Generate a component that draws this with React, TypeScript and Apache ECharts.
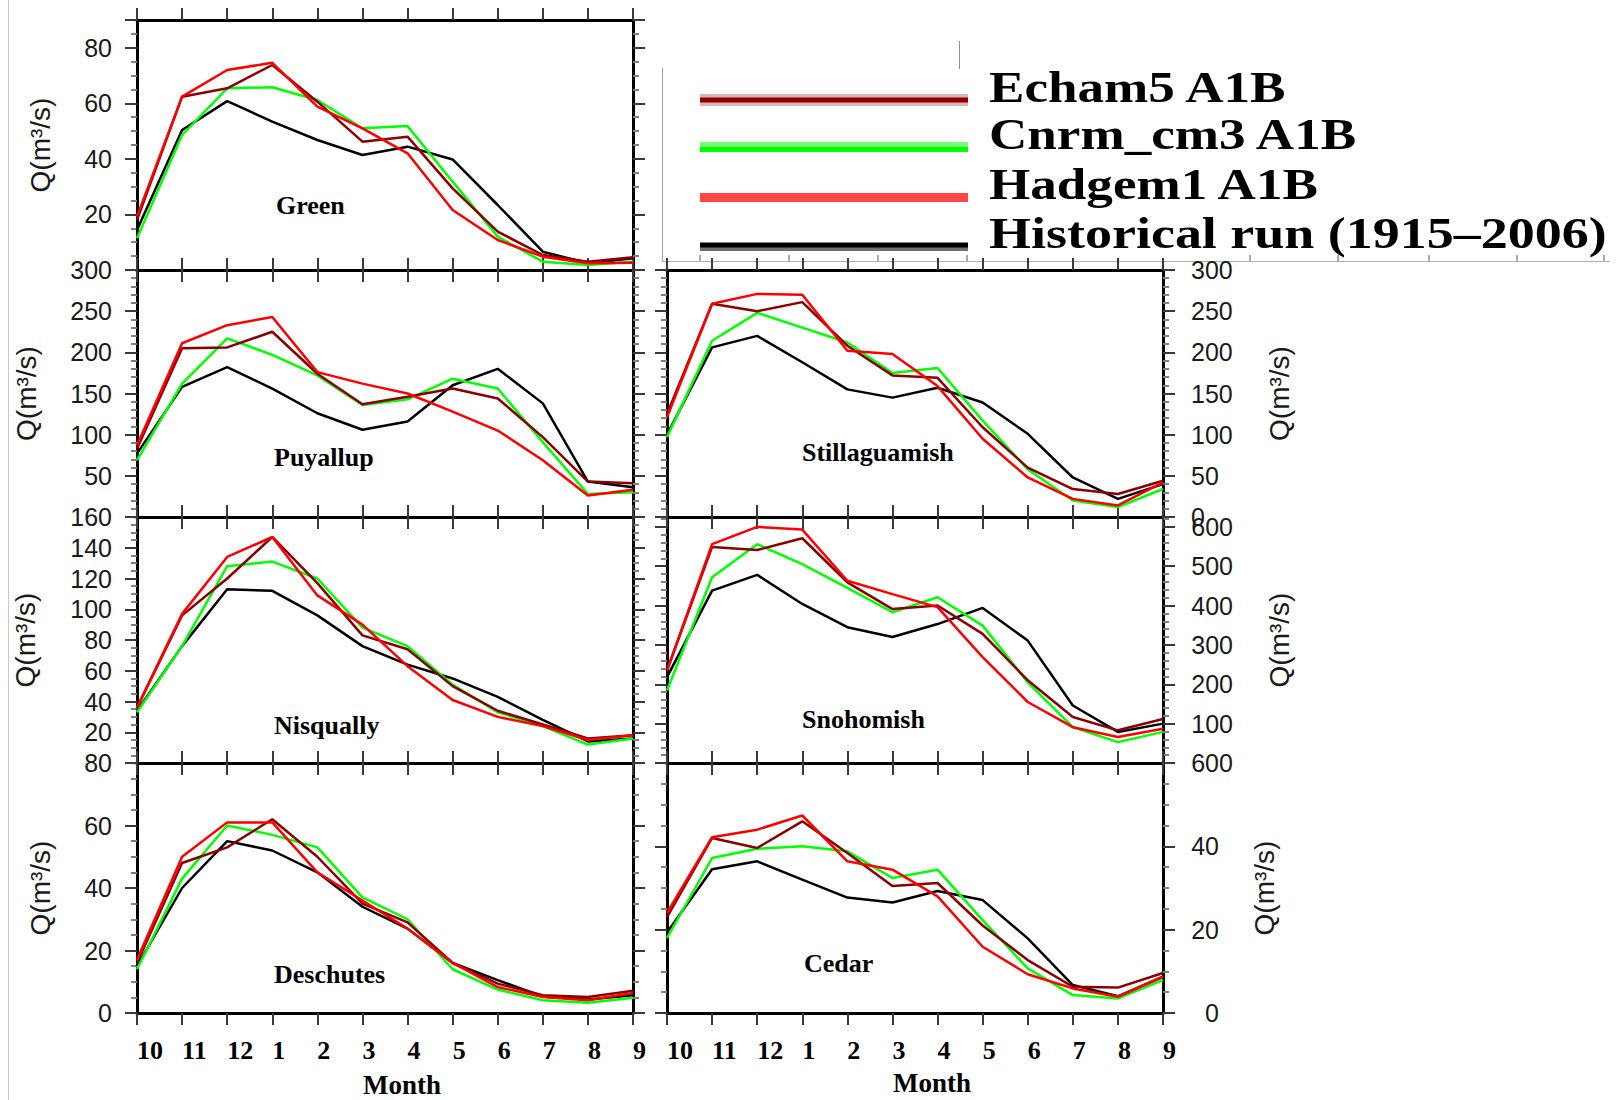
import React, { useEffect, useRef } from 'react';
import * as echarts from 'echarts';

// ---- data ----
const months = ['10', '11', '12', '1', '2', '3', '4', '5', '6', '7', '8', '9'];
const seriesNames = ['Echam5 A1B', 'Cnrm_cm3 A1B', 'Hadgem1 A1B', 'Historical run (1915–2006)'];
const seriesColors = ['#8b0000', '#00ff00', '#ff0000', '#000000'];
const yAxisTitle = 'Q(m³/s)';
const xAxisTitle = 'Month';

const greenEcham5 = [18, 62.4, 65.4, 73.8, 60.6, 46.2, 48, 29.4, 13.8, 5.4, 3, 4.6];
const greenCnrm = [11.4, 48.6, 65.4, 65.8, 61.2, 51, 51.8, 31.8, 12, 3, 1.8, 3];
const greenHadgem = [19.2, 62.4, 72, 74.6, 58.8, 51, 42, 21.6, 10.8, 4.8, 2.4, 2.6];
const greenHist = [14.4, 50.4, 60.8, 53.4, 46.8, 41.4, 44.4, 39.8, 23.4, 6.6, 2.4, 4.2];

const puyallupEcham5 = [83, 205, 206, 225, 174, 137, 146, 156, 144, 97, 43, 41];
const puyallupCnrm = [69, 162, 217, 197, 172, 136, 143, 168, 156, 91, 28, 30];
const puyallupHadgem = [87, 211, 233, 243, 176, 162, 150, 128, 105, 69, 26, 33];
const puyallupHist = [77, 158, 182, 156, 126, 106, 116, 160, 180, 138, 43, 36];

const nisquallyEcham5 = [36, 96, 120, 147, 117, 83, 74, 50, 34, 25, 16, 18];
const nisquallyCnrm = [33, 76, 128, 131, 120, 88, 76, 51, 33, 24, 12, 16];
const nisquallyHadgem = [36, 97, 134, 147, 109, 90, 63, 41, 30, 24, 15, 18];
const nisquallyHist = [34, 76, 113, 112, 96, 76, 64, 55, 43, 28, 14, 16];

const deschutesEcham5 = [16, 48, 53, 62, 50, 35, 29, 16, 9.4, 5.7, 5.1, 7.1];
const deschutesCnrm = [14, 43, 60, 57, 53, 37, 30, 14, 7.5, 4.1, 3.3, 4.9];
const deschutesHadgem = [17, 50, 61, 61, 45, 36, 27, 16, 8.3, 5.1, 4.1, 6.4];
const deschutesHist = [15, 40, 55, 52, 45, 34, 27, 16, 10.5, 5.3, 4.3, 5.7];

const stillaguamishEcham5 = [125, 259, 250, 261, 208, 172, 169, 109, 60, 34, 28, 44];
const stillaguamishCnrm = [97, 214, 248, 230, 212, 175, 181, 117, 58, 20, 12, 34];
const stillaguamishHadgem = [121, 259, 271, 270, 202, 198, 159, 95, 48, 22, 14, 42];
const stillaguamishHist = [100, 206, 220, 188, 155, 145, 157, 139, 101, 48, 22, 40];

const snohomishEcham5 = [235, 549, 541, 571, 459, 391, 400, 328, 210, 117, 83, 112];
const snohomishCnrm = [184, 472, 556, 505, 445, 383, 421, 349, 205, 91, 53, 79];
const snohomishHadgem = [235, 556, 600, 593, 463, 429, 396, 269, 155, 91, 66, 87];
const snohomishHist = [218, 438, 478, 404, 345, 320, 353, 394, 311, 146, 79, 100];

const cedarEcham5 = [23, 42, 39.6, 46, 38.4, 30.5, 31.2, 21, 12.7, 6.3, 6.1, 9.6];
const cedarCnrm = [18, 37.2, 39.4, 40, 38.8, 32.4, 34.4, 22.3, 10.7, 4.3, 3.5, 7.9];
const cedarHadgem = [24, 42.2, 44, 47.4, 36.4, 34.4, 28, 15.9, 9.3, 5.9, 3.9, 8.7];
const cedarHist = [19.3, 34.5, 36.4, 32, 27.7, 26.5, 29.3, 27.1, 17.9, 6.7, 4, 8.7];

// ---- panel layout ----
type Panel = {
  title: string;
  data: number[][];
  max: number;
  interval: number;
  minor: number;
  side: 'left' | 'right';
  left: number;
  top: number;
  height: number;
  showMin: boolean;
  showMax: boolean;
  nameGap: number;
  labelMargin: number;
  labelAlign: string;
  bottomRow: boolean;
  titleX: number;
  titleY: number;
};

const panels: Panel[] = [
  { title: 'Green', data: [greenEcham5, greenCnrm, greenHadgem, greenHist], max: 90, interval: 20, minor: 4, side: 'left', left: 137, top: 20, height: 250, showMin: false, showMax: false, nameGap: 83, labelMargin: 25, labelAlign: 'right', bottomRow: false, titleX: 276, titleY: 205 },
  { title: 'Puyallup', data: [puyallupEcham5, puyallupCnrm, puyallupHadgem, puyallupHist], max: 300, interval: 50, minor: 5, side: 'left', left: 137, top: 270, height: 247, showMin: false, showMax: true, nameGap: 97, labelMargin: 25, labelAlign: 'right', bottomRow: false, titleX: 274, titleY: 457 },
  { title: 'Nisqually', data: [nisquallyEcham5, nisquallyCnrm, nisquallyHadgem, nisquallyHist], max: 160, interval: 20, minor: 4, side: 'left', left: 137, top: 517, height: 246, showMin: false, showMax: true, nameGap: 98, labelMargin: 25, labelAlign: 'right', bottomRow: false, titleX: 274, titleY: 725 },
  { title: 'Deschutes', data: [deschutesEcham5, deschutesCnrm, deschutesHadgem, deschutesHist], max: 80, interval: 20, minor: 4, side: 'left', left: 137, top: 763, height: 250, showMin: true, showMax: true, nameGap: 83, labelMargin: 25, labelAlign: 'right', bottomRow: true, titleX: 274, titleY: 974 },
  { title: 'Stillaguamish', data: [stillaguamishEcham5, stillaguamishCnrm, stillaguamishHadgem, stillaguamishHist], max: 300, interval: 50, minor: 5, side: 'right', left: 667, top: 270, height: 247, showMin: true, showMax: true, nameGap: 102, labelMargin: 28, labelAlign: 'left', bottomRow: false, titleX: 802, titleY: 452 },
  { title: 'Snohomish', data: [snohomishEcham5, snohomishCnrm, snohomishHadgem, snohomishHist], max: 625, interval: 100, minor: 5, side: 'right', left: 667, top: 517, height: 246, showMin: true, showMax: false, nameGap: 102, labelMargin: 70, labelAlign: 'right', bottomRow: false, titleX: 802, titleY: 719 },
  { title: 'Cedar', data: [cedarEcham5, cedarCnrm, cedarHadgem, cedarHist], max: 60, interval: 20, minor: 4, side: 'right', left: 667, top: 763, height: 250, showMin: true, showMax: true, nameGap: 87, labelMargin: 56, labelAlign: 'right', bottomRow: true, titleX: 804, titleY: 963 },
];

const PLOT_W = 496;
const seriesZ = [4, 3, 5, 2];

function buildOption() {
  const grid: any[] = [];
  const xAxis: any[] = [];
  const yAxis: any[] = [];
  const series: any[] = [];
  const graphic: any[] = [];

  const axisLine = { show: true, onZero: false, lineStyle: { color: '#000', width: 3 } };
  const axisTick = { show: true, inside: false, length: 12, interval: 0, lineStyle: { color: '#3a3a3a', width: 2 } };

  panels.forEach((p, i) => {
    grid.push({
      left: p.left,
      top: p.top,
      width: PLOT_W,
      height: p.height,
      show: false,
      containLabel: false,
      outerBoundsMode: 'none',
    });

    const xBase = {
      gridIndex: i,
      type: 'category',
      data: months,
      boundaryGap: false,
      axisLine,
      axisTick,
      splitLine: { show: false },
    };
    xAxis.push({
      ...xBase,
      position: 'bottom',
      axisLabel: {
        show: p.bottomRow,
        interval: 0,
        align: 'left',
        verticalAlign: 'middle',
        margin: 37,
        fontFamily: '"Liberation Serif", serif',
        fontWeight: 'bold',
        fontSize: 26,
        color: '#000',
      },
      name: p.bottomRow ? xAxisTitle : '',
      nameLocation: 'middle',
      nameGap: p.side === 'left' ? 72 : 70,
      nameTextStyle: {
        fontFamily: '"Liberation Serif", serif',
        fontWeight: 'bold',
        fontSize: 27,
        color: '#000',
        verticalAlign: 'middle',
        padding: [0, 0, 0, 34],
      },
    });
    xAxis.push({ ...xBase, position: 'top', axisLabel: { show: false } });

    const yBase = {
      gridIndex: i,
      type: 'value',
      min: 0,
      max: p.max,
      interval: p.interval,
      axisLine,
      axisTick: { show: true, inside: false, length: 12, lineStyle: { color: '#3a3a3a', width: 2 } },
      minorTick: { show: true, splitNumber: p.minor, length: 6, lineStyle: { color: '#808080', width: 2 } },
      splitLine: { show: false },
      minorSplitLine: { show: false },
    };
    const labelAxis = {
      ...yBase,
      position: p.side,
      axisLabel: {
        show: true,
        margin: p.labelMargin,
        align: p.labelAlign,
        fontFamily: '"Liberation Sans", Arial, sans-serif',
        fontSize: 25,
        color: '#1a1a1a',
        showMinLabel: p.showMin,
        showMaxLabel: p.showMax,
      },
      name: yAxisTitle,
      nameLocation: 'middle',
      nameRotate: 90,
      nameGap: p.nameGap,
      nameTextStyle: {
        fontFamily: '"Liberation Sans", Arial, sans-serif',
        fontSize: 28,
        color: '#1a1a1a',
      },
    };
    const mirrorAxis = {
      ...yBase,
      position: p.side === 'left' ? 'right' : 'left',
      axisLabel: { show: false },
    };
    yAxis.push(labelAxis, mirrorAxis);

    p.data.forEach((values, k) => {
      series.push({
        type: 'line',
        name: seriesNames[k],
        xAxisIndex: 2 * i,
        yAxisIndex: 2 * i,
        data: values,
        showSymbol: false,
        symbol: 'none',
        silent: true,
        z: seriesZ[k],
        lineStyle: { color: seriesColors[k], width: 2.5 },
        itemStyle: { color: seriesColors[k] },
      });
    });

    graphic.push({
      type: 'text',
      x: p.titleX,
      y: p.titleY,
      silent: true,
      style: {
        text: p.title,
        fill: '#000',
        font: 'bold 26px "Liberation Serif", serif',
        align: 'left',
        verticalAlign: 'middle',
      },
    });
  });

  // page artefacts: thin left rule and the legend box outline
  graphic.push(
    { type: 'line', silent: true, shape: { x1: 8.5, y1: 0, x2: 8.5, y2: 1100 }, style: { stroke: '#c8c8c8', lineWidth: 1 } },
    { type: 'rect', silent: true, shape: { x: 662, y: 68, width: 327, height: 193 }, style: { fill: '#fff', stroke: null } },
    { type: 'line', silent: true, shape: { x1: 662.5, y1: 68, x2: 662.5, y2: 261 }, style: { stroke: '#a0a0a0', lineWidth: 1 } },
    { type: 'line', silent: true, shape: { x1: 662, y1: 261.5, x2: 1610, y2: 261.5 }, style: { stroke: '#b0b0b0', lineWidth: 1 } },
    { type: 'line', silent: true, shape: { x1: 959.5, y1: 41, x2: 959.5, y2: 69 }, style: { stroke: '#909090', lineWidth: 1 } }
  );
  const rulerTicks = [700, 789, 878, 967, 1250, 1338, 1429, 1517, 1604];
  rulerTicks.forEach((x) => {
    graphic.push({ type: 'line', silent: true, shape: { x1: x, y1: 255, x2: x, y2: 261 }, style: { stroke: '#a8a8a8', lineWidth: 2 } });
  });

  // legend
  const legendY = [100, 147, 197.5, 245];
  const legendTextY = [87, 134, 184, 233];
  const legendScale = [1.18, 1.18, 1.18, 1.2];
  graphic.push(
    { type: 'line', silent: true, shape: { x1: 700, y1: legendY[0], x2: 968, y2: legendY[0] }, style: { stroke: '#dcb4b4', lineWidth: 12 } },
    { type: 'line', silent: true, shape: { x1: 700, y1: legendY[0], x2: 968, y2: legendY[0] }, style: { stroke: seriesColors[0], lineWidth: 5 } },
    { type: 'line', silent: true, shape: { x1: 700, y1: legendY[1] - 2.5, x2: 968, y2: legendY[1] - 2.5 }, style: { stroke: '#74ff74', lineWidth: 5 } },
    { type: 'line', silent: true, shape: { x1: 700, y1: legendY[1] + 2.5, x2: 968, y2: legendY[1] + 2.5 }, style: { stroke: seriesColors[1], lineWidth: 5 } },
    { type: 'line', silent: true, shape: { x1: 700, y1: legendY[2], x2: 968, y2: legendY[2] }, style: { stroke: '#ff4444', lineWidth: 9 } },
    { type: 'line', silent: true, shape: { x1: 700, y1: legendY[3] + 4, x2: 968, y2: legendY[3] + 4 }, style: { stroke: '#707070', lineWidth: 4 } },
    { type: 'line', silent: true, shape: { x1: 700, y1: legendY[3], x2: 968, y2: legendY[3] }, style: { stroke: seriesColors[3], lineWidth: 5 } }
  );
  seriesNames.forEach((n, k) => {
    graphic.push({
      type: 'text',
      silent: true,
      x: 989,
      y: legendTextY[k],
      scaleX: legendScale[k],
      style: {
        text: n,
        fill: '#000',
        font: 'bold 45px "Liberation Serif", serif',
        align: 'left',
        verticalAlign: 'middle',
      },
    });
  });

  return {
    animation: false,
    backgroundColor: '#ffffff',
    grid,
    xAxis,
    yAxis,
    series,
    graphic,
  };
}

export default function App() {
  const ref = useRef<HTMLDivElement>(null);
  useEffect(() => {
    if (!ref.current) return;
    const chart = echarts.init(ref.current, undefined, { renderer: 'svg' });
    chart.setOption(buildOption() as any);
    return () => chart.dispose();
  }, []);
  return (
    <div
      ref={ref}
      style={{ position: 'absolute', left: 0, top: 0, width: 1622, height: 1100, background: '#fff' }}
    />
  );
}
